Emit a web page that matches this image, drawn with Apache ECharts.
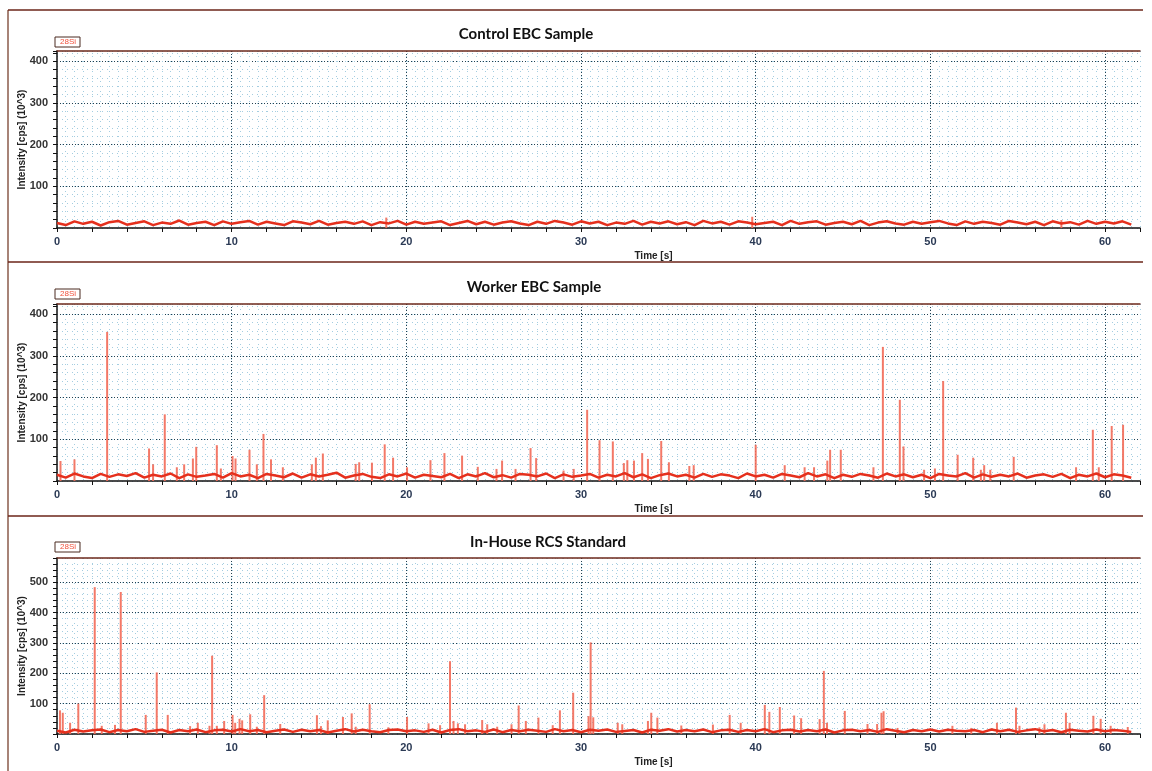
<!DOCTYPE html>
<html>
<head>
<meta charset="utf-8">
<title>28Si time scans</title>
<script src="https://cdn.jsdelivr.net/npm/echarts@6/dist/echarts.min.js"></script>
<style>
html, body { margin: 0; padding: 0; background: #fff; }
#main { width: 1152px; height: 771px; }
</style>
</head>
<body>
<div id="main"></div>
<script>
// sampling step of the baseline arrays (s)
var STEP = 0.5;

var titles = ['Control EBC Sample', 'Worker EBC Sample', 'In-House RCS Standard'];
var yMaxList = [425, 425, 580];
var xMax = 62;

// baseline noise, one value every STEP seconds
var ctrlBase = [
    12,7,16,10,15,6,14,17,8,12,
    16,7,13,10,18,8,12,15,7,16,
    10,14,17,8,15,11,7,16,13,9,
    17,8,12,15,10,16,7,14,11,17,
    8,15,10,13,16,7,12,17,9,15,
    8,13,16,11,7,15,10,17,13,8,
    16,11,15,7,13,10,17,8,15,11,
    16,9,14,7,17,11,15,8,16,13,
    9,12,15,7,17,10,14,16,8,12,
    15,9,17,7,13,16,11,8,15,10,
    14,17,11,7,16,10,15,12,8,17,
    13,9,15,7,16,11,14,8,17,10,
    15,11,16,8
];
var workerBase = [
    15,8,18,11,7,17,10,16,12,19,
    8,15,11,18,7,16,10,13,17,8,
    19,11,15,7,17,13,9,18,8,16,
    11,15,20,8,13,17,10,7,16,11,
    18,8,15,12,9,17,7,16,11,19,
    9,14,8,17,15,11,18,7,16,10,
    13,17,8,15,11,19,9,16,7,14,
    18,11,15,8,17,10,16,13,7,18,
    11,15,8,17,13,9,19,11,16,7,
    15,10,17,13,8,18,11,16,9,15,
    7,17,13,11,19,8,16,10,15,11,
    18,8,13,16,10,17,7,15,11,18,
    9,16,13,8
];
var rcsBase = [
    11,5,14,8,12,15,6,13,9,16,
    7,11,14,5,13,9,15,6,12,14,
    8,16,9,13,6,11,15,7,14,9,
    13,5,11,16,8,14,9,6,13,15,
    9,12,7,14,5,13,16,9,12,7,
    15,6,13,9,14,11,7,16,9,13,
    6,14,11,15,7,10,13,5,14,11,
    16,8,13,9,15,6,12,14,7,13,
    9,16,6,12,14,8,13,9,15,5,
    12,14,9,13,7,16,11,6,13,9,
    15,8,14,11,9,13,6,15,9,14,
    7,12,16,9,13,6,14,11,8,15,
    9,13,11,7
];

// spikes: [time s, intensity 10^3 cps]
var ctrlSpikes = [[18.85, 25], [39.8, 27], [57.5, 19]];
var workerSpikes = [
    [0.2,48],[1.0,52],[2.87,358],[5.27,78],[5.5,40],[6.17,160],[6.86,33],[7.28,40],
    [7.78,54],[7.97,82],[9.15,86],[9.38,30],[10.05,60],[10.22,54],[11.02,75],[11.44,40],
    [11.82,113],[12.25,52],[12.93,33],[14.59,40],[14.82,56],[15.22,66],[17.1,41],[17.3,45],
    [18.03,44],[18.76,88],[19.24,56],[20.04,33],[21.38,50],[22.18,67],[23.19,61],[24.09,34],
    [25.16,29],[25.48,49],[26.25,29],[27.11,79],[27.43,55],[29.0,25],[29.58,29],[30.35,171],
    [31.06,98],[31.82,95],[32.45,43],[32.65,50],[33.03,49],[33.5,67],[33.83,53],[34.59,96],
    [35.03,45],[36.2,36],[36.45,38],[40.0,87],[41.66,38],[42.8,33],[43.34,33],[44.1,49],
    [44.26,75],[44.87,75],[46.74,33],[47.28,322],[48.25,195],[48.46,83],[49.64,27],[50.26,30],
    [50.73,240],[51.56,63],[52.45,56],[52.89,27],[53.08,38],[53.43,27],[54.77,58],[58.34,33],
    [59.3,123],[59.64,33],[60.38,132],[61.03,135]
];
var rcsSpikes = [
    [0.17,78],[0.33,70],[0.75,37],[1.22,100],[2.16,484],[2.56,27],[3.32,30],[3.65,468],
    [5.08,63],[5.71,203],[6.34,63],[7.62,26],[8.06,37],[8.73,27],[8.88,258],[9.15,27],
    [9.57,43],[10.05,63],[10.2,37],[10.45,50],[10.6,45],[11.06,65],[11.44,24],[11.86,128],
    [12.78,33],[14.88,62],[15.11,26],[15.5,45],[16.37,56],[16.87,68],[17.1,24],[17.9,98],
    [18.97,22],[20.04,56],[21.27,35],[21.93,29],[22.5,240],[22.7,43],[22.95,35],[23.36,32],
    [24.34,46],[24.63,32],[25.2,24],[26.02,32],[26.43,94],[26.84,43],[27.56,54],[28.38,29],
    [28.79,78],[29.55,136],[30.43,59],[30.55,302],[30.7,55],[32.1,37],[32.36,32],[33.83,43],
    [34.02,70],[34.37,54],[35.74,28],[37.55,31],[38.51,63],[39.14,37],[40.52,96],[40.78,73],
    [41.38,89],[42.2,61],[42.6,52],[43.66,49],[43.9,208],[44.08,37],[45.1,76],[46.4,33],
    [46.95,33],[47.2,70],[47.32,75],[48.12,20],[51.26,27],[52.34,20],[53.81,37],[54.9,87],
    [55.1,27],[56.24,22],[56.53,32],[57.76,70],[57.97,37],[59.33,60],[59.75,50],[60.32,27],
    [61.3,23]
];

var baseList = [ctrlBase, workerBase, rcsBase];
var spikeList = [ctrlSpikes, workerSpikes, rcsSpikes];

// layout of the three panels
var gridPos = [{top: 51, height: 177}, {top: 304, height: 177}, {top: 558, height: 176}];
var titleTop = [22, 275, 530];
var titleCenter = [521, 529, 543];
var legendTop = [37, 289, 542];

var lightGrid = {color: '#a4cde0', width: 1, type: [1, 4]};
var darkGrid = {color: '#24404f', width: 1, type: [1, 2]};

var option = {
    animation: false,
    backgroundColor: '#fff',
    title: [],
    legend: [],
    grid: [],
    xAxis: [],
    yAxis: [],
    series: [],
    graphic: []
};

for (var g = 0; g < 3; g++) {
    option.title.push({
        text: titles[g],
        left: titleCenter[g],
        top: titleTop[g],
        textAlign: 'center',
        textStyle: {fontFamily: 'Lato', fontWeight: 'bold', fontSize: 15, color: '#111'}
    });
    option.legend.push({
        data: ['28Si'],
        left: 55,
        top: legendTop[g],
        icon: 'none',
        itemWidth: 0,
        itemHeight: 8,
        padding: [1, 4, 1, 0],
        borderColor: '#4a2a20',
        borderWidth: 1,
        selectedMode: false,
        textStyle: {color: '#f0503c', fontSize: 8, fontFamily: 'Liberation Sans'}
    });
    option.grid.push({left: 57, width: 1083, top: gridPos[g].top, height: gridPos[g].height});

    // bottom axis: ticks every 2 s, labels every 10 s
    option.xAxis.push({
        gridIndex: g, type: 'value', min: 0, max: xMax, interval: 2, position: 'bottom',
        axisLine: {onZero: false, lineStyle: {color: '#111', width: 1.5}},
        axisTick: {length: 4, lineStyle: {color: '#111'}},
        axisLabel: {
            formatter: function (v) { return v % 10 === 0 ? String(v) : ''; },
            color: '#2b3a55', fontWeight: 'bold', fontSize: 11, fontFamily: 'Liberation Sans', margin: 8
        },
        splitLine: {show: false},
        name: 'Time [s]', nameLocation: 'middle', nameGap: 23, nameMoveOverlap: false,
        nameTextStyle: {fontWeight: 'bold', fontSize: 10, color: '#222', fontFamily: 'Liberation Sans', padding: [0, 0, 0, 110]}
    });
    // top axis: frame line and light dotted grid
    option.xAxis.push({
        gridIndex: g, type: 'value', min: 0, max: xMax, interval: 2, position: 'top',
        axisLine: {show: true, onZero: false, lineStyle: {color: '#6e2a1c', width: 1.5}},
        axisTick: {show: false}, axisLabel: {show: false},
        splitLine: {show: true, lineStyle: lightGrid},
        minorTick: {show: false, splitNumber: 4},
        minorSplitLine: {show: true, lineStyle: lightGrid}
    });
    // hidden axis: dark dotted grid every 10 s
    option.xAxis.push({
        gridIndex: g, type: 'value', min: 0, max: xMax, interval: 10, position: 'bottom',
        axisLine: {show: false, onZero: false}, axisTick: {show: false}, axisLabel: {show: false},
        splitLine: {show: true, showMinLine: false, showMaxLine: false, lineStyle: darkGrid}
    });

    option.yAxis.push({
        gridIndex: g, type: 'value', min: 0, max: yMaxList[g], interval: 20, position: 'left',
        axisLine: {show: true, onZero: false, lineStyle: {color: '#111', width: 1.5}},
        axisTick: {show: true, length: 4, lineStyle: {color: '#111'}},
        axisLabel: {
            formatter: function (v) { return (v > 0 && v % 100 === 0) ? String(v) : ''; },
            color: '#333', fontWeight: 'bold', fontSize: 11, fontFamily: 'Liberation Sans', margin: 9
        },
        splitLine: {show: true, lineStyle: lightGrid},
        name: 'Intensity [cps] (10^3)', nameLocation: 'middle', nameGap: 30, nameMoveOverlap: false,
        nameTextStyle: {fontWeight: 'bold', fontSize: 10, color: '#222', fontFamily: 'Liberation Sans'}
    });
    option.yAxis.push({
        gridIndex: g, type: 'value', min: 0, max: yMaxList[g], interval: 100, position: 'right',
        axisLine: {show: false, onZero: false}, axisTick: {show: false}, axisLabel: {show: false},
        splitLine: {show: true, showMinLine: false, showMaxLine: false, lineStyle: darkGrid}
    });

    option.series.push({
        type: 'bar', name: '28Si', xAxisIndex: 3 * g, yAxisIndex: 2 * g,
        data: spikeList[g], barWidth: 2, silent: true,
        itemStyle: {color: '#f26a58', opacity: 0.9}
    });
    option.series.push({
        type: 'line', name: '28Si', xAxisIndex: 3 * g, yAxisIndex: 2 * g,
        data: baseList[g].map(function (v, i) { return [i * STEP, v]; }),
        symbol: 'none', silent: true,
        lineStyle: {color: '#e5301d', width: 2.5},
        itemStyle: {color: '#e5301d'}
    });
}

// panel frames
var frameColor = '#6b2418';
option.graphic.push({type: 'line', shape: {x1: 8, y1: 10, x2: 8, y2: 771}, style: {stroke: '#8a5a4a', lineWidth: 1.5}, silent: true});
[10, 262, 516].forEach(function (y) {
    option.graphic.push({type: 'line', shape: {x1: 8, y1: y, x2: 1143, y2: y}, style: {stroke: frameColor, lineWidth: 1.5}, silent: true});
});

var chart = echarts.init(document.getElementById('main'));
chart.setOption(option);
</script>
</body>
</html>
